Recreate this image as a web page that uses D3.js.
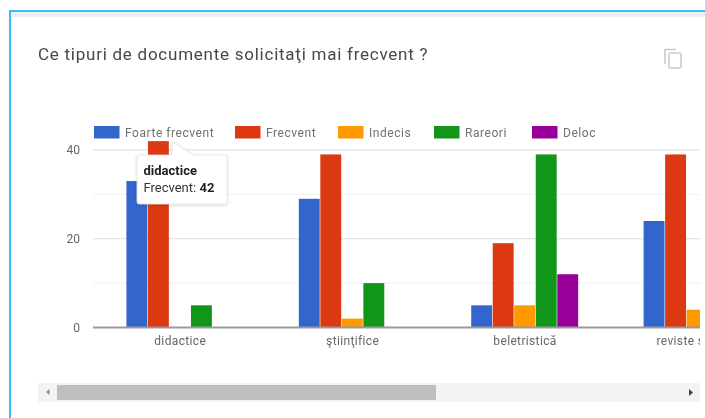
<!DOCTYPE html>
<html><head><meta charset="utf-8">
<style>
html,body{margin:0;padding:0;background:#fff;overflow:hidden}
svg{display:block;filter:blur(0.7px)}
text{font-family:Roboto,Arial,sans-serif}
</style>
<script src="https://cdn.jsdelivr.net/npm/d3@7"></script>
</head><body><svg id="c" width="705" height="418"></svg>
<script>
const titleText = "Ce tipuri de documente solicitaţi mai frecvent ?";
const categories = ["didactice", "ştiinţifice", "beletristică", "reviste şi ziare"];
const seriesNames = ["Foarte frecvent", "Frecvent", "Indecis", "Rareori", "Deloc"];
const seriesColors = ["#3366cc", "#dc3912", "#ff9900", "#109618", "#990099"];
const foarteFrecvent = [33, 29, 5, 24];
const frecvent = [42, 39, 19, 39];
const indecis = [0, 2, 5, 4];
const rareori = [5, 10, 39, null];
const deloc = [0, 0, 12, null];
const seriesValues = [foarteFrecvent, frecvent, indecis, rareori, deloc];
const majorTicks = [0, 20, 40];
const minorTicks = [10, 30];
const legendX = [94, 235, 338, 434, 532];
const tooltipTitle = "didactice";
const tooltipLabel = "Frecvent: ";
const tooltipValue = "42";

const svg = d3.select("#c");
const left = 93, right = 700, y0 = 327.5, y40 = 150;
const step = 172.4;
const x = d3.scaleBand().domain(categories).range([94, 94 + step * categories.length]).paddingInner(0.376).paddingOuter(0.188);
const xs = d3.scaleBand().domain(d3.range(seriesNames.length)).range([0, x.bandwidth()]);
const y = d3.scaleLinear().domain([0, 40]).range([y0, y40]);

const defs = svg.append("defs");
defs.append("clipPath").attr("id", "plot").append("rect").attr("x", left).attr("y", 100).attr("width", right - left).attr("height", 270);
const sh = defs.append("filter").attr("id", "sh").attr("x", "-10%").attr("y", "-10%").attr("width", "120%").attr("height", "125%");
sh.append("feDropShadow").attr("dx", 0).attr("dy", 1).attr("stdDeviation", 1.5).attr("flood-color", "#000").attr("flood-opacity", 0.18);

// card
svg.append("rect").attr("x", 10).attr("y", 11).attr("width", 700).attr("height", 420).attr("fill", "#fff").attr("stroke", "#00b0f5").attr("stroke-width", 1.6);
svg.append("rect").attr("x", 11).attr("y", 12).attr("width", 694).attr("height", 5).attr("fill", "#eceef0");

svg.append("text").attr("x", 38).attr("y", 60).attr("font-size", 17).attr("letter-spacing", 0.75).attr("fill", "#45484b").text(titleText);

// copy icon
const icon = svg.append("g").attr("fill", "none").attr("stroke", "#c8cacc").attr("stroke-width", 1.6);
icon.append("path").attr("d", "M665 64V49.5h11");
icon.append("rect").attr("x", 669).attr("y", 53).attr("width", 12).attr("height", 15).attr("rx", 1.5);

// grid
const g = svg.append("g");
g.selectAll(".minor").data(minorTicks).join("line").attr("x1", left).attr("x2", right).attr("y1", d => y(d)).attr("y2", d => y(d)).attr("stroke", "#efefef");
g.selectAll(".major").data(majorTicks.filter(d => d > 0)).join("line").attr("x1", left).attr("x2", right).attr("y1", d => y(d)).attr("y2", d => y(d)).attr("stroke", "#dcdcdc").attr("stroke-width", 1.2);

// bars
const bars = svg.append("g").attr("clip-path", "url(#plot)");
seriesValues.forEach((vals, si) => {
  bars.selectAll(null).data(vals.map((v, i) => ({v, c: categories[i]})).filter(d => d.v))
    .join("rect")
    .attr("x", d => x(d.c) + xs(si))
    .attr("width", xs.bandwidth() - 0.6)
    .attr("y", d => y(d.v))
    .attr("height", d => y0 - y(d.v))
    .attr("fill", seriesColors[si]);
});
svg.append("line").attr("x1", left).attr("x2", right).attr("y1", y0).attr("y2", y0).attr("stroke", "#9a9a9a").attr("stroke-width", 2);

// axes
const ya = svg.append("g").attr("transform", `translate(${left - 13},0)`)
  .call(d3.axisLeft(y).tickValues(majorTicks).tickSize(0).tickPadding(0));
ya.select(".domain").remove();
ya.selectAll("text").attr("font-size", 12).attr("font-family", "Roboto,Arial,sans-serif").attr("fill", "#666").attr("dy", "0.32em");

const xa = svg.append("g").attr("clip-path", "url(#plot)").append("g").attr("transform", `translate(0,${y0})`)
  .call(d3.axisBottom(x).tickSize(0).tickPadding(9));
xa.select(".domain").remove();
xa.selectAll("text").attr("font-size", 12).attr("font-family", "Roboto,Arial,sans-serif").attr("letter-spacing", 0.35).attr("fill", "#666");

// legend
const lg = svg.append("g").selectAll("g").data(seriesNames).join("g").attr("transform", (d, i) => `translate(${legendX[i]},126)`);
lg.append("rect").attr("width", 25.5).attr("height", 12.5).attr("fill", (d, i) => seriesColors[i]);
lg.append("text").attr("x", 31).attr("y", 10.5).attr("font-size", 12).attr("letter-spacing", 0.55).attr("fill", "#707070").text(d => d);

// tooltip
const tip = svg.append("g").attr("filter", "url(#sh)");
tip.append("path").attr("d", "M137 157a2 2 0 0 1 2-2H172V141L193 155H225a2 2 0 0 1 2 2V202a2 2 0 0 1-2 2H139a2 2 0 0 1-2-2Z")
  .attr("fill", "#fff").attr("stroke", "#e2e2e2").attr("stroke-width", 0.8);
tip.append("text").attr("x", 143.5).attr("y", 175).attr("font-size", 13).attr("font-weight", 700).attr("fill", "#222").text(tooltipTitle);
const t2 = tip.append("text").attr("x", 143.5).attr("y", 192).attr("font-size", 13).attr("fill", "#333").text(tooltipLabel);
t2.append("tspan").attr("font-weight", 700).attr("fill", "#222").text(tooltipValue);

// scrollbar
svg.append("rect").attr("x", 38).attr("y", 383).attr("width", 662).attr("height", 19).attr("fill", "#f3f3f3");
svg.append("rect").attr("x", 57).attr("y", 385).attr("width", 379).attr("height", 15).attr("fill", "#bfbfbf");
svg.append("path").attr("d", "M49.5 389v6l-3.5-3Z").attr("fill", "#8a8a8a");
svg.append("path").attr("d", "M689 389v7l4-3.5Z").attr("fill", "#444");
</script></body></html>
